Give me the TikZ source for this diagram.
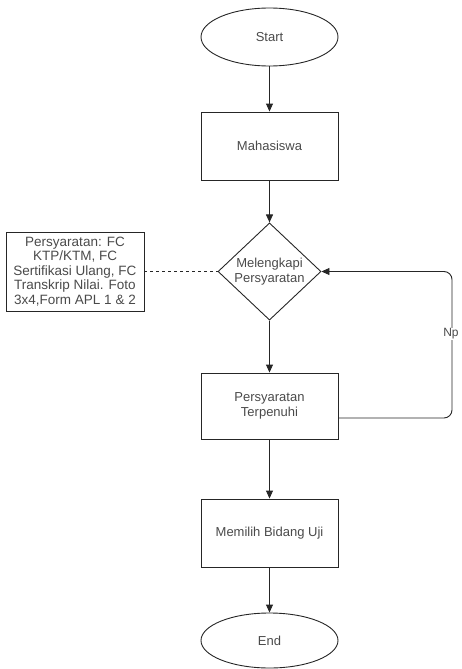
\documentclass[tikz,border=0pt]{standalone}
\usepackage{fontspec}
\setmainfont{Liberation Sans}
\usetikzlibrary{shapes.geometric,arrows.meta}
\definecolor{txt}{HTML}{4A4A4A}
\definecolor{ln}{HTML}{262626}
\tikzset{
  base/.style={draw=ln, line width=0.9pt, text=txt, font=\fontsize{13}{15}\selectfont, align=center, inner sep=0pt},
  term/.style={base, ellipse, minimum width=137pt, minimum height=58pt},
  procbox/.style={base, rectangle, minimum width=137pt, minimum height=68pt},
  decide/.style={base, diamond, minimum width=103pt, minimum height=90pt},
  note/.style={base, rectangle, minimum width=138pt, minimum height=79pt, font=\fontsize{13.5}{14.6}\selectfont},
  flow/.style={draw=ln, line width=0.9pt, -{Triangle[length=8pt,width=7pt]}},
}
\begin{document}
\begin{tikzpicture}[x=1pt,y=-1pt]
\useasboundingbox (0,0) rectangle (461,669);
\node[term] (start) at (269.5,37) {Start};
\node[procbox] (mhs) at (269.5,146) {Mahasiswa};
\node[decide] (lengkap) at (269.5,271.5) {Melengkapi\\Persyaratan};
\node[procbox, minimum height=66pt] (penuh) at (269.5,406) {Persyaratan\\Terpenuhi};
\node[procbox] (bidang) at (269.5,533) {Memilih Bidang Uji};
\node[term, minimum height=55pt] (end) at (269.5,640.5) {End};
\node[note] (syarat) at (75,271.5) {Persyaratan: FC\\KTP/KTM, FC\\Sertifikasi Ulang, FC\\Transkrip Nilai. Foto\\3x4,Form APL 1 \& 2};
\coordinate (loopout) at ([yshift=-12pt]penuh.east);
\coordinate (loopa) at (452,418);
\coordinate (loopb) at (452,271.5);
\draw[flow] (start) -- (mhs);
\draw[flow] (mhs) -- (lengkap);
\draw[flow] (lengkap) -- (penuh);
\draw[flow] (penuh) -- (bidang);
\draw[flow] (bidang) -- (end);
\draw[draw=ln, line width=0.9pt, dashed] (syarat.east) -- (lengkap.west);
\draw[flow, rounded corners=8pt] (loopout) -- (loopa) -- (loopb) -- (lengkap.east);
\node[fill=white, text=txt, font=\fontsize{12}{14}\selectfont, inner sep=1pt] (nolabel) at (451,334) {Np};
\end{tikzpicture}
\end{document}
